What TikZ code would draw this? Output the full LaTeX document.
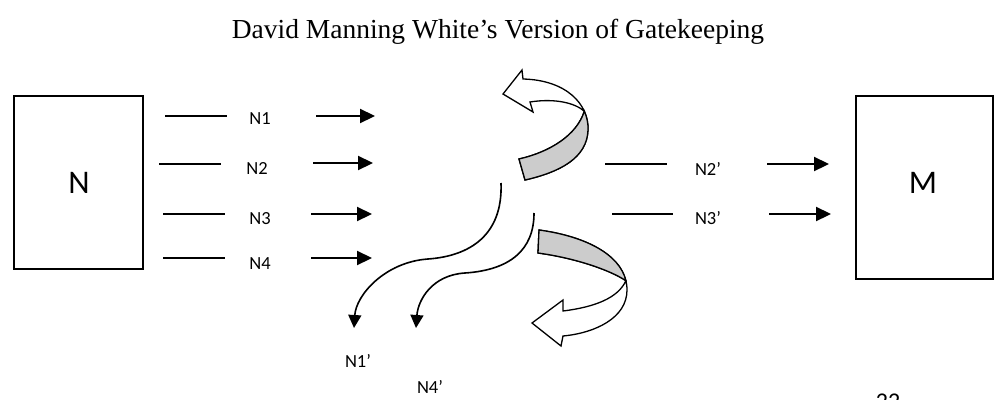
\documentclass[tikz,border=0pt]{standalone}
\usepackage{fontspec}
\setmainfont{Carlito}
\newfontfamily\titlefont{Liberation Serif}
\usetikzlibrary{arrows.meta}
\tikzset{
  lbl/.style={inner sep=0, font=\fontsize{18.5}{18.5}\selectfont},
  bigl/.style={inner sep=0, font=\fontsize{33}{33}\selectfont},
  plainline/.style={line width=1.3pt},
  fatarrow/.style={line width=2.2pt, -{Triangle[length=15pt,width=14pt]}},
  wavearrow/.style={line width=1.6pt, -{Triangle[length=13pt,width=13pt]}},
  ribbonwhite/.style={draw, line width=1.3pt, fill=white, line join=miter},
  ribbongray/.style={draw, line width=1.3pt, fill=black!20, line join=miter},
}
\begin{document}
\begin{tikzpicture}[x=1pt,y=-1pt]
\useasboundingbox (0,0) rectangle (995,399);
\clip (0,0) rectangle (995,399);

% title
\node[anchor=base, inner sep=0, font=\titlefont\fontsize{27.5}{27.5}\selectfont] (title) at (498,38) {David Manning White’s Version of Gatekeeping};

% boxes
\draw[line width=1.4pt] (14,96) rectangle (143,269);
\node[bigl] (N) at (79,183) {N};
\draw[line width=1.4pt] (856,96) rectangle (993,279);
\node[bigl] (M) at (923,183) {M};

% left rows
\foreach \i/\y/\ya/\xa/\xb/\lx/\ly/\ax/\bx in {1/116/116/165/227/260/118.5/316/375, 2/164/163/159/221/257/168.5/313/373, 3/214/214/163/225/260/218.5/311/372, 4/258/258/163/225/260/264/311/372}{
  \coordinate (ls\i) at (\xa,\y);
  \coordinate (le\i) at (\xb,\y);
  \coordinate (as\i) at (\ax,\ya);
  \coordinate (ae\i) at (\bx,\ya);
  \draw[plainline] (ls\i) -- (le\i);
  \node[lbl] (lab\i) at (\lx,\ly) {N\i};
  \draw[fatarrow] (as\i) -- (ae\i);
}

% right rows
\foreach \i/\y/\xa/\xb/\ly/\ax/\bx in {2/164/605/667/169/767/829, 3/214/612/673/218/769/831}{
  \coordinate (rs\i) at (\xa,\y);
  \coordinate (re\i) at (\xb,\y);
  \coordinate (ras\i) at (\ax,\y);
  \coordinate (rae\i) at (\bx,\y);
  \draw[plainline] (rs\i) -- (re\i);
  \node[lbl] (rlab\i) at (708,\ly) {N\i’};
  \draw[fatarrow] (ras\i) -- (rae\i);
}

% wavy arrows
\coordinate (w1s) at (501,183);
\coordinate (w1m) at (428,259);
\coordinate (w1e) at (354,328);
\draw[wavearrow] (w1s) .. controls (503,235) and (470,256) .. (w1m) .. controls (385,262) and (356,295) .. (w1e);
\coordinate (w2s) at (534,213);
\coordinate (w2m) at (465,273);
\coordinate (w2e) at (416,328);
\draw[wavearrow] (w2s) .. controls (534,250) and (510,270) .. (w2m) .. controls (432,275) and (418,300) .. (w2e);

\node[lbl] (n1p) at (358,361) {N1’};
\node[lbl] (n4p) at (430,387) {N4’};

% top ribbon arrow
\path[ribbonwhite] (503,94) -- (522,70) -- (523,79) .. controls (566,80) and (589,104) .. (588,130)
  .. controls (587,158) and (560,172) .. (525,180) -- (519,159)
  .. controls (550,152) and (577,135) .. (584.3,111.2)
  .. controls (575,103) and (555,98) .. (530,102) -- (533,112) -- cycle;
\path[ribbongray] (519,159) -- (525,180) .. controls (560,172) and (587,158) .. (588,130)
  .. controls (588.25,123.5) and (587,117.1) .. (584.3,111.2)
  .. controls (577,135) and (550,152) .. cycle;

% bottom ribbon arrow
\path[ribbonwhite] (532,323) -- (563,300) -- (563,311) .. controls (595,307) and (618,298) .. (625.9,280.7)
  .. controls (610,270) and (575,258) .. (538,253) -- (539,230)
  .. controls (590,237) and (627,258) .. (627,290)
  .. controls (627,318) and (595,333) .. (563,336) -- (561,346) -- cycle;
\path[ribbongray] (539,230) -- (538,253) .. controls (575,258) and (610,270) .. (625.9,280.7)
  .. controls (619.5,253.9) and (584.9,236.3) .. cycle;

% page number (cut off at the page edge, as in the reference)
\node[anchor=north, inner sep=0, font=\fontsize{24}{24}\selectfont] (pg) at (888,394) {22};
\end{tikzpicture}
\end{document}
